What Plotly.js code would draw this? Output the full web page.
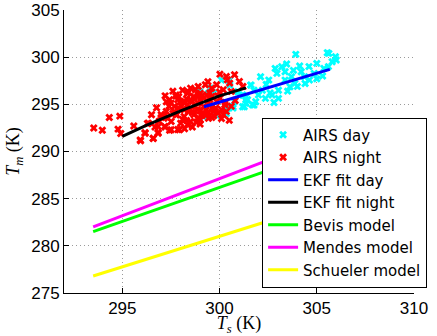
<!DOCTYPE html>
<html>
<head>
<meta charset="utf-8">
<script src="https://cdn.plot.ly/plotly-3.0.1.min.js"></script>
<style>html,body{margin:0;padding:0;background:#fff;}#chart{width:437px;height:336px;}</style>
</head>
<body>
<div id="chart"></div>
<script>
// AIRS day samples (Ts, Tm)
const dayTs = [303.92,305.62,305.96,305.79,305.0,304.12,303.45,303.2,302.86,302.95,303.37,304.2,305.37,304.87,302.11,302.53,301.61,301.77,301.36,301.86,302.36,303.03,303.03,303.62,303.87,303.37,303.7,304.62,304.37,301.02,301.19,302.7,302.2,301.36,300.1,301.27,300.35,299.52,300.5,299.18,299.85,301.36,301.77,300.69,300.52,299.52,301.61,300.94,299.69,299.43,298.98,301.44,301.69,300.77,300.69,301.19,300.4,302.6,303.5,304.0,304.4,305.0,305.3,302.0,302.8,303.8,304.6,302.4,305.6,306.0,305.54];
const dayTm = [300.3,300.4,300.04,299.51,299.34,299.06,299.27,298.98,298.81,298.28,298.45,298.45,298.81,298.28,297.92,297.57,297.04,296.5,295.1,295.27,295.63,295.63,296.5,296.86,297.22,297.57,297.92,297.57,297.92,295.98,294.74,295.98,296.5,295.8,297.57,294.74,294.03,296.7,297.57,293.67,293.85,295.45,294.92,294.74,297.04,296.16,297.04,296.33,296.18,296.18,296.37,295.48,294.95,295.3,294.6,296.0,294.6,296.2,296.4,296.9,297.2,297.7,298.0,296.0,295.2,298.6,299.0,297.1,299.0,299.7,300.47];
// AIRS night samples (Ts, Tm)
const nightTs = [293.53,293.97,294.33,294.87,294.78,294.92,295.59,295.94,296.17,296.29,296.59,296.76,296.84,296.68,297.26,297.2,297.43,297.85,297.76,297.6,300.02,300.35,300.77,301.02,300.52,299.85,299.27,299.6,300.19,300.6,298.35,297.76,297.43,298.68,299.0,297.26,297.68,298.0,298.35,298.76,299.43,299.85,300.27,297.34,297.76,298.18,298.68,299.18,299.69,300.1,300.35,297.51,298.0,298.51,299.01,299.43,297.18,297.51,297.93,296.84,296.59,296.17,295.92,296.34,296.84,298.35,297.68,297.85,298.51,298.18,298.85,299.18,299.01,298.51,298.76,297.51,299.6,300.02,299.35,299.93,298.2,298.9,299.3,299.6,298.4,298.9,299.7,300.2,300.6,298.6,299.2,297.9,298.1,298.6,299.0,297.0,297.2,296.9,300.8,299.4,298.9,298.1,297.6,297.2,301.2,300.4,
  298.3,298.7,299.1,299.5,299.9,300.3,298.0,298.5,299.0,299.4,299.8,300.1,297.8,298.3,298.8,299.3,299.7,297.4,297.9,298.4,298.9,299.5,300.0,298.6,299.1,299.6,300.5,297.0,296.5,298.2];
const nightTm = [292.5,292.26,293.6,293.75,292.37,291.9,292.7,291.13,292.0,292.97,291.38,294.63,292.02,292.6,295.27,292.6,292.26,292.33,295.87,294.03,298.2,297.96,298.13,297.43,297.25,297.07,297.07,296.72,296.54,296.37,296.18,296.0,295.48,295.84,295.48,294.25,294.78,295.3,294.95,294.78,295.13,295.3,294.95,293.53,293.89,293.72,293.89,294.07,294.25,294.42,294.25,293.18,293.0,293.18,293.36,293.53,292.65,292.3,292.3,291.94,291.41,291.94,291.23,293.0,292.65,292.85,294.25,295.48,295.48,294.42,294.42,294.78,296.18,296.72,296.54,295.13,295.84,295.66,296.0,294.07,295.1,295.1,294.4,294.6,294.2,293.6,293.8,293.9,294.8,295.3,295.7,294.6,293.4,292.6,292.9,293.6,293.9,293.2,295.4,297.4,296.9,296.5,296.4,295.9,296.9,297.6,
  295.6,295.7,295.9,295.5,295.9,295.2,294.9,294.5,294.3,294.1,294.6,293.5,293.9,293.3,293.1,294.0,294.4,294.8,295.8,296.3,296.0,296.2,296.3,294.1,293.8,293.6,293.3,293.9,293.9,292.4];
// EKF fits
const ekfDayTs = [299.2, 305.67];
const ekfDayTm = [294.75, 298.7];
const ekfNightTs = [295.0, 296.2, 298.0, 300.0, 301.36];
const ekfNightTm = [291.6, 292.75, 294.3, 295.9, 296.75];
// Models
const modelTs = [293.5, 305.7];
const bevisTm = [281.5, 290.3];
const mendesTm = [282.0, 291.6];
const schuelerTm = [276.8, 284.7];
const xTicks = [295, 300, 305, 310];
const yTicks = [275, 280, 285, 290, 295, 300, 305];

const mk = (x, y, name, color) => ({x, y, name, type: 'scatter', mode: 'markers',
  marker: {symbol: 'x', size: 7, color: color, line: {width: 0}}});
const ln = (x, y, name, color) => ({x, y, name, type: 'scatter', mode: 'lines',
  line: {color: color, width: 3}});

const data = [
  mk(dayTs, dayTm, 'AIRS day', '#00ffff'),
  mk(nightTs, nightTm, 'AIRS night', '#ff0000'),
  ln(ekfDayTs, ekfDayTm, 'EKF fit day', '#0000ff'),
  ln(ekfNightTs, ekfNightTm, 'EKF fit night', '#000000'),
  ln(modelTs, bevisTm, 'Bevis model', '#00ff00'),
  ln(modelTs, mendesTm, 'Mendes model', '#ff00ff'),
  ln(modelTs, schuelerTm, 'Schueler model', '#ffff00')
];

const axisCommon = {
  showline: true, linecolor: '#000', linewidth: 1,
  ticks: 'inside', ticklen: 5, tickcolor: '#000', tickwidth: 1,
  showgrid: true, gridcolor: '#9a9a9a', griddash: '1px,3px', gridwidth: 1,
  zeroline: false, mirror: false,
  tickfont: {family: 'Liberation Sans, Arial, sans-serif', size: 17, color: '#000'}
};

const layout = {
  width: 437, height: 336,
  margin: {l: 63.5, r: 14.3, t: 10, b: 43.3},
  paper_bgcolor: '#fff', plot_bgcolor: '#fff',
  showlegend: true,
  xaxis: Object.assign({}, axisCommon, {
    range: [292, 310], tickvals: xTicks, ticktext: xTicks.map(String),
    title: {text: '<i>T</i><sub><i>s</i></sub> (K)', standoff: 5,
      font: {family: 'Liberation Serif, DejaVu Serif, serif', size: 18, color: '#000'}}
  }),
  yaxis: Object.assign({}, axisCommon, {
    range: [275, 305], tickvals: yTicks, ticktext: yTicks.map(String),
    title: {text: '<i>T</i><sub><i>m</i></sub> (K)', standoff: 6,
      font: {family: 'Liberation Serif, DejaVu Serif, serif', size: 18, color: '#000'}}
  }),
  legend: {
    x: 0.566, y: 0.62, xanchor: 'left', yanchor: 'top',
    bgcolor: '#fff', bordercolor: '#000', borderwidth: 1,
    font: {family: 'DejaVu Sans, sans-serif', size: 15, color: '#000'},
    itemwidth: 30, tracegroupgap: 0
  }
};

Plotly.newPlot('chart', data, layout, {staticPlot: true, displayModeBar: false});
</script>
</body>
</html>
